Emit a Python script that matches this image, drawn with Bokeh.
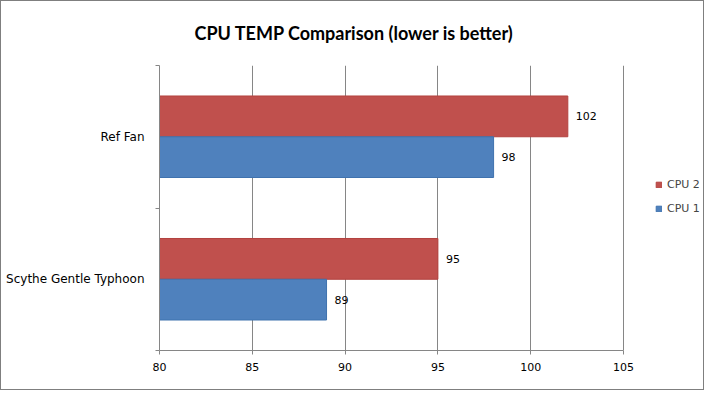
from bokeh.plotting import figure
from bokeh.models import Range1d, FixedTicker, ColumnDataSource, Legend, LegendItem, Title
from bokeh.core.properties import value
from bokeh.embed import file_html
from bokeh.resources import INLINE

categories = ["Scythe Gentle Typhoon", "Ref Fan"]
cpu1 = [89, 98]
cpu2 = [95, 102]
series_names = ["CPU 2", "CPU 1"]
x_ticks = [80, 85, 90, 95, 100, 105]

RED = "#C0504D"
BLUE = "#4F81BD"
GRAY = "#868686"
FONT = "DejaVu Sans"

# frame spans 158..702 px; axis scale 80..105 occupies 158..622 (18.56 px/unit)
x_lo, x_hi = x_ticks[0], x_ticks[-1]
px_per_unit = 464 / (x_hi - x_lo)
x_end = x_lo + 544 / px_per_unit

p = figure(width=704, height=390, output_backend="svg", toolbar_location=None,
           x_range=Range1d(x_lo, x_end), y_range=Range1d(0, len(categories)),
           min_border_left=158, min_border_right=2, min_border_top=62, min_border_bottom=41)
p.outline_line_color = None
p.background_fill_color = "white"
p.border_fill_color = "white"
p.styles = {"border": "1px solid #7f7f7f", "box-sizing": "border-box"}

centers = [i + 0.5 for i in range(len(categories))]
bar_h = 0.286
src2 = ColumnDataSource(dict(y=[c + bar_h / 2 for c in centers], right=cpu2,
                             lab=[str(v) for v in cpu2]))
src1 = ColumnDataSource(dict(y=[c - bar_h / 2 for c in centers], right=cpu1,
                             lab=[str(v) for v in cpu1]))

r2 = p.hbar(y="y", left=x_lo, right="right", height=bar_h, source=src2,
            fill_color=RED, line_color="#B3423F", line_width=1)
r1 = p.hbar(y="y", left=x_lo, right="right", height=bar_h, source=src1,
            fill_color=BLUE, line_color="#3F72AE", line_width=1)

for s in (src2, src1):
    p.text(x="right", y="y", text="lab", source=s, x_offset=8,
           text_align="left", text_baseline="middle", text_font=value(FONT),
           text_font_size="11px", text_color="black")

# x axis
p.xaxis.ticker = FixedTicker(ticks=x_ticks)
p.xaxis.bounds = (x_lo, x_hi)
p.xaxis.axis_line_color = GRAY
p.xaxis.major_tick_line_color = GRAY
p.xaxis.major_tick_out = 4
p.xaxis.major_tick_in = 0
p.xaxis.minor_tick_line_color = None
p.xaxis.major_label_standoff = 8
p.xaxis.major_label_text_font = FONT
p.xaxis.major_label_text_font_size = "11px"
p.xaxis.major_label_text_color = "black"

# y axis
p.yaxis.ticker = FixedTicker(ticks=centers, minor_ticks=list(range(len(categories) + 1)))
p.yaxis.major_label_overrides = {c: n for c, n in zip(centers, categories)}
p.yaxis.axis_line_color = GRAY
p.yaxis.major_tick_line_color = None
p.yaxis.major_tick_out = 0
p.yaxis.major_tick_in = 0
p.yaxis.minor_tick_line_color = GRAY
p.yaxis.minor_tick_out = 4
p.yaxis.minor_tick_in = 0
p.yaxis.major_label_standoff = 11
p.yaxis.major_label_text_font = FONT
p.yaxis.major_label_text_font_size = "12px"
p.yaxis.major_label_text_color = "black"

p.xgrid.grid_line_color = GRAY
p.xgrid.ticker = FixedTicker(ticks=x_ticks)
p.xgrid.bounds = (x_lo, x_hi)
p.ygrid.grid_line_color = None

p.title = Title(text="CPU TEMP Comparison (lower is better)", align="left",
                vertical_align="top", standoff=40, offset=35,
                text_font="Lato", text_font_style="bold", text_font_size="18px",
                text_color="black")

legend = Legend(items=[LegendItem(label=series_names[0], renderers=[r2]),
                       LegendItem(label=series_names[1], renderers=[r1])],
                location=(496, 135), orientation="vertical",
                glyph_width=7, glyph_height=7, label_standoff=5, spacing=11,
                padding=0, margin=0, border_line_color=None, background_fill_alpha=0,
                label_text_font=FONT, label_text_font_size="11px")
p.add_layout(legend)

open("out.html", "w").write(file_html(p, INLINE))
